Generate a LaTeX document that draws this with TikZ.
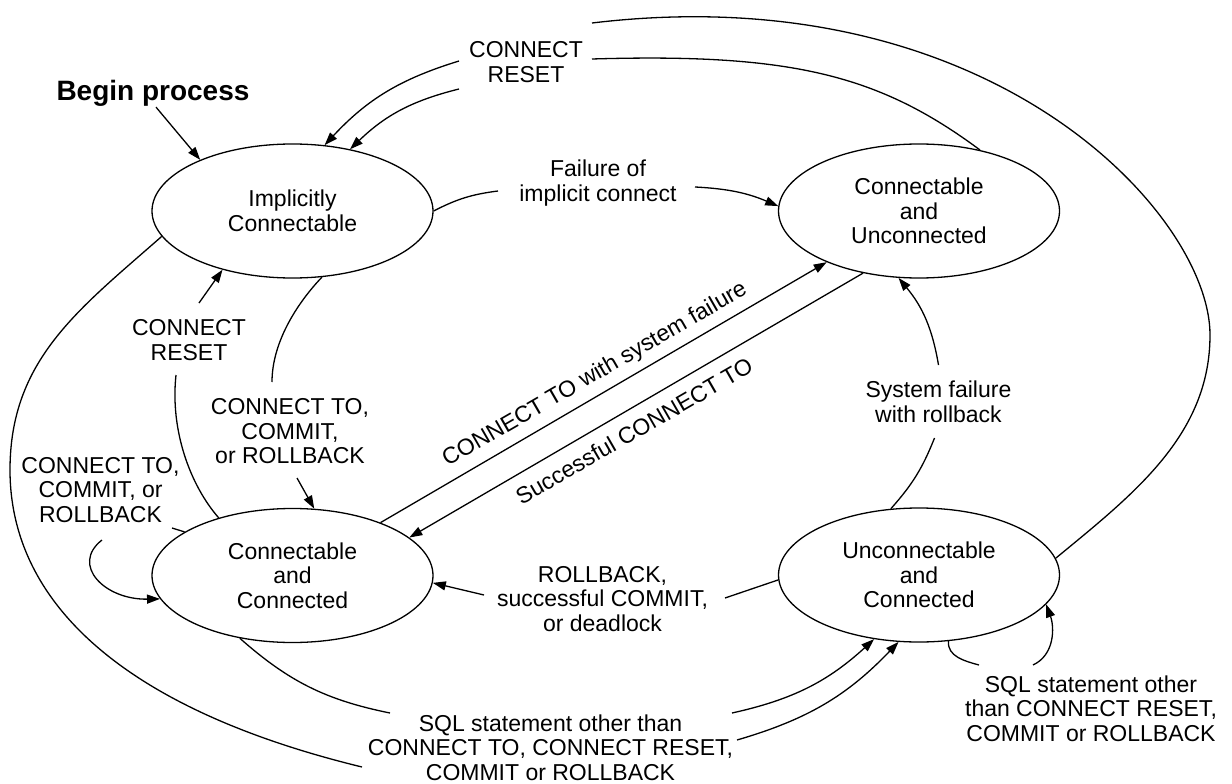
\documentclass[tikz,border=0pt]{standalone}
\usepackage{fontspec}
\setmainfont{Liberation Sans}
\usetikzlibrary{shapes.geometric, arrows.meta, positioning}

\begin{document}
\begin{tikzpicture}[x=1pt, y=-1pt,
        state/.style={ellipse, draw, line width=1.3pt, minimum width=281pt, minimum height=134pt, inner sep=0pt, align=center, font=\fontsize{23}{24.5}\selectfont},
        lbl/.style={align=center, inner sep=0pt, font=\fontsize{23}{24.5}\selectfont},
        link/.style={line width=1.3pt},
        flow/.style={line width=1.3pt, -{Triangle[length=13pt, width=9pt]}}
    ]
        \useasboundingbox (0,0) rectangle (1232,784);

        % States
        \node[state] (impl) at (292.5,211) {Implicitly\\Connectable};
        \node[state] (cun) at (919,211) {Connectable\\and\\Unconnected};
        \node[state] (ccon) at (292.5,575.5) {Connectable\\and\\Connected};
        \node[state] (ucon) at (919,575) {Unconnectable\\and\\Connected};

        % Labels
        \node[anchor=base, inner sep=1pt, font=\fontsize{28}{30}\selectfont\bfseries] (begin) at (153,100) {Begin process};
        \node[lbl] (resettop) at (526,62) {CONNECT\\RESET};
        \node[lbl] (fail) at (598,183) {Failure of\\implicit connect};
        \node[lbl] (resetleft) at (189,340) {CONNECT\\RESET};
        \node[lbl] (ctmid) at (290,431.5) {CONNECT TO,\\COMMIT,\\or ROLLBACK};
        \node[lbl] (ctleft) at (100.5,490) {CONNECT TO,\\COMMIT, or\\ROLLBACK};
        \node[lbl, rotate=30] (sysconn) at (595,375) {CONNECT TO with system failure};
        \node[lbl, rotate=30] (okconn) at (634,431) {Successful CONNECT TO};
        \node[lbl] (sysfail) at (938.5,402) {System failure\\with rollback};
        \node[lbl] (rollback) at (602.5,599) {ROLLBACK,\\successful COMMIT,\\or deadlock};
        \node[lbl] (sqlbot) at (550.5,747.5) {SQL statement other than\\CONNECT TO, CONNECT RESET,\\COMMIT or ROLLBACK};
        \node[lbl] (sqlright) at (1091,708.5) {SQL statement other\\than CONNECT RESET,\\COMMIT or ROLLBACK};

        % Ends of the lines at the labels
        \coordinate (rt1) at (592,23);
        \coordinate (rt2) at (592,59);
        \coordinate (rt3) at (459,61);
        \coordinate (rt4) at (459,89);
        \coordinate (rarc) at (1210,335);
        \coordinate (fl) at (498,191);
        \coordinate (fr) at (695,187);
        \coordinate (rl1) at (199,303);
        \coordinate (rl2) at (176,375);
        \coordinate (cm1) at (272,382);
        \coordinate (cm2) at (297,478);
        \coordinate (cl1) at (172,528);
        \coordinate (cl2) at (102,540);
        \coordinate (larc) at (10,470);
        \coordinate (sf1) at (934.5,438);
        \coordinate (sf2) at (938.5,365);
        \coordinate (rb1) at (725,598);
        \coordinate (rb2) at (484,595);
        \coordinate (sb1) at (390,713);
        \coordinate (sb2) at (732,713);
        \coordinate (sb3) at (362,767);
        \coordinate (sb4) at (737,740);
        \coordinate (sr1) at (979,665);
        \coordinate (sr2) at (1033,665);

        % Begin
        \draw[flow] ([xshift=3pt]begin.south) -- (impl.151);

        % CONNECT RESET (top)
        \draw[link] (ucon.7.5) .. controls (1133.7,494) and (1210,435) .. (rarc)
            .. controls (1210,215) and (992,-25) .. (rt1);
        \draw[flow] (rt3) to[bend right=15] (impl.64);
        \draw[link] (cun.45.5) .. controls (879,75) and (792,53) .. (rt2);
        \draw[flow] (rt4) to[bend right=15] (impl.47);

        % Failure of implicit connect
        \draw[link] (impl.east) to[bend left=10] (fl);
        \draw[flow] (fr) to[bend left=10] (cun.178);

        % CONNECT RESET (left)
        \draw[flow] (rl1) -- (impl.-140);
        \draw[link] (rl2) .. controls (170,430) and (190,485) .. (ccon.142);

        % CONNECT TO, COMMIT, or ROLLBACK
        \draw[link] (impl.-66) .. controls (300,300) and (272,340) .. (cm1);
        \draw[flow] (cm2) -- (ccon.72);
        \draw[link] (ccon.158) -- (cl1);
        \draw[flow] (cl2) .. controls (70,565) and (105,600) .. (ccon.-170);

        % CONNECT TO
        \draw[flow] (ccon.31) -- (cun.-151);
        \draw[flow] (cun.-132) -- (ccon.18);

        % System failure
        \draw[link] (ucon.113) to[bend right=10] (sf1);
        \draw[flow] (sf2) to[bend right=15] (cun.-107);

        % ROLLBACK
        \draw[link] (ucon.-178) -- (rb1);
        \draw[flow] (rb2) -- (ccon.-3);

        % SQL statement
        \draw[link] (ccon.-130) to[bend right=15] (sb1);
        \draw[flow] (sb2) to[bend right=15] (ucon.-125);
        \draw[link] (impl.-169) .. controls (78,310) and (10,360) .. (larc)
            .. controls (10,600) and (119.5,708) .. (sb3);
        \draw[flow] (sb4) to[bend right=15] (ucon.-107);
        \draw[link] (ucon.-66) to[out=-95, in=165] (sr1);
        \draw[flow] (sr2) to[out=25, in=-70] (ucon.-13);
    \end{tikzpicture}
\end{document}
